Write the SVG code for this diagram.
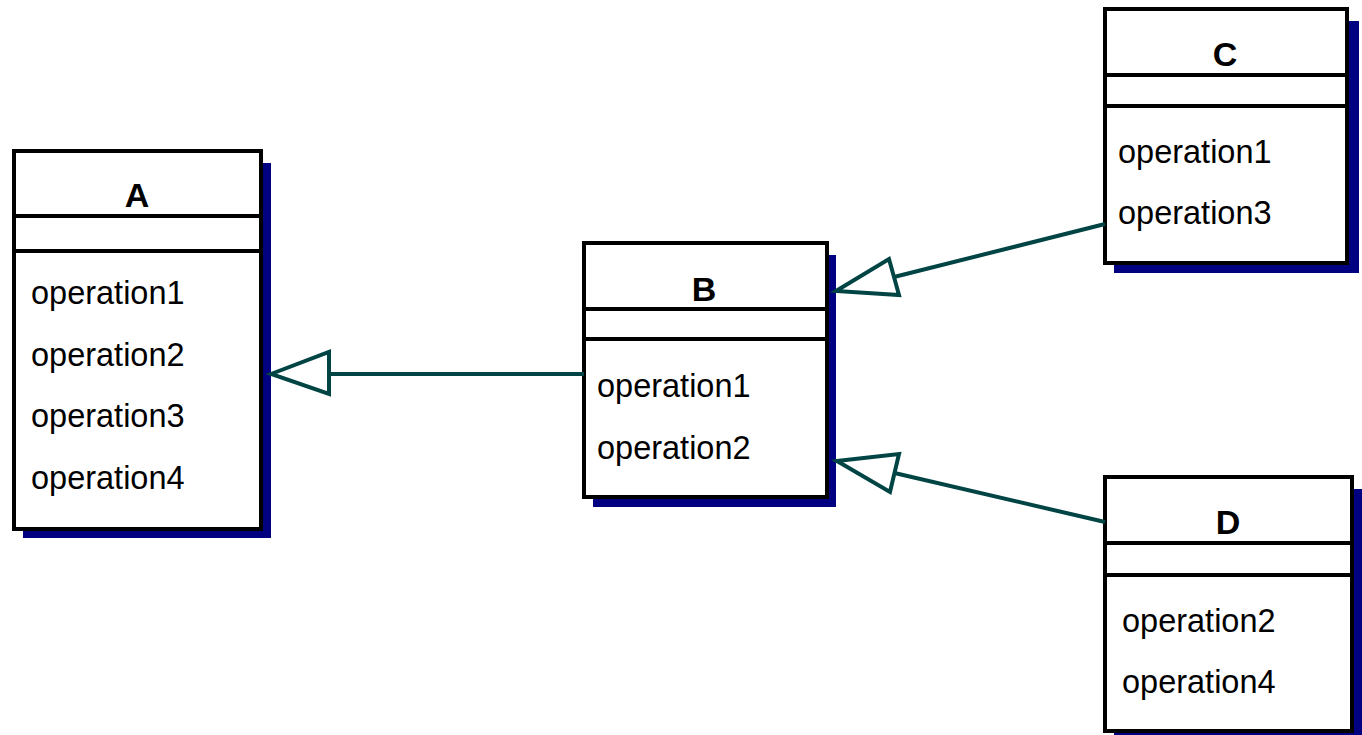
<svg xmlns="http://www.w3.org/2000/svg" width="1362" height="735" viewBox="0 0 1362 735">
  <style>
    .shadow { fill: #000080; stroke: none; }
    .box { fill: #ffffff; stroke: #000000; stroke-width: 4; }
    .sep { stroke: #000000; stroke-width: 4; }
    .title { font-family: "Liberation Sans", Arial, sans-serif; font-weight: bold; font-size: 34px; text-anchor: middle; fill: #000000; }
    .op { font-family: "Liberation Sans", Arial, sans-serif; font-size: 32.5px; fill: #000000; }
    .conn { stroke: #004444; stroke-width: 4; fill: none; }
    .head { stroke: #004444; stroke-width: 4; fill: #ffffff; stroke-linejoin: miter; }
  </style>
  <rect width="1362" height="735" fill="#ffffff"/>

  <g id="node-A">
    <rect class="shadow" x="23" y="163" width="248" height="375"/>
    <rect class="box" x="14" y="151" width="247" height="378"/>
    <line class="sep" x1="14" y1="216" x2="261" y2="216"/>
    <line class="sep" x1="14" y1="251" x2="261" y2="251"/>
    <text class="title" x="137" y="207">A</text>
    <text class="op" x="31" y="304">operation1</text>
    <text class="op" x="31" y="366">operation2</text>
    <text class="op" x="31" y="427">operation3</text>
    <text class="op" x="31" y="489">operation4</text>
  </g>

  <g id="node-B">
    <rect class="shadow" x="593" y="255" width="243" height="252"/>
    <rect class="box" x="584" y="243" width="243" height="254"/>
    <line class="sep" x1="584" y1="309" x2="827" y2="309"/>
    <line class="sep" x1="584" y1="339" x2="827" y2="339"/>
    <text class="title" x="704" y="301">B</text>
    <text class="op" x="597" y="397">operation1</text>
    <text class="op" x="597" y="459">operation2</text>
  </g>

  <g id="node-C">
    <rect class="shadow" x="1114" y="21" width="245" height="252"/>
    <rect class="box" x="1105" y="9" width="242" height="254"/>
    <line class="sep" x1="1105" y1="75" x2="1347" y2="75"/>
    <line class="sep" x1="1105" y1="106" x2="1347" y2="106"/>
    <text class="title" x="1225" y="66">C</text>
    <text class="op" x="1118" y="163">operation1</text>
    <text class="op" x="1118" y="224">operation3</text>
  </g>

  <g id="node-D">
    <rect class="shadow" x="1114" y="489" width="250" height="252"/>
    <rect class="box" x="1105" y="477" width="247" height="254"/>
    <line class="sep" x1="1105" y1="543" x2="1352" y2="543"/>
    <line class="sep" x1="1105" y1="575" x2="1352" y2="575"/>
    <text class="title" x="1228" y="534">D</text>
    <text class="op" x="1122" y="632">operation2</text>
    <text class="op" x="1122" y="693">operation4</text>
  </g>

  <g id="connectors">
    <line class="conn" x1="584" y1="374" x2="329" y2="374"/>
    <polygon class="head" points="271,374 329,352 329,394"/>
    <line class="conn" x1="894" y1="277" x2="1105" y2="224"/>
    <polygon class="head" points="836,291 889,259 899,295"/>
    <line class="conn" x1="894.5" y1="473" x2="1105" y2="522"/>
    <polygon class="head" points="837,461 899,454 890,492"/>
  </g>
</svg>
